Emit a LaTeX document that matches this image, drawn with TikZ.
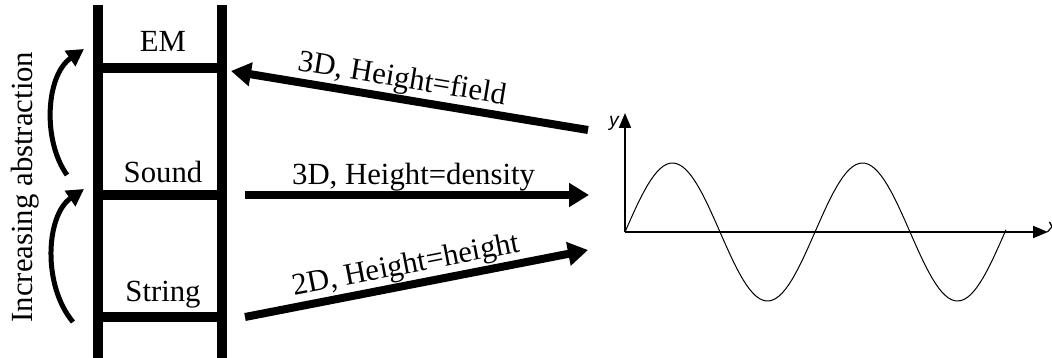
\documentclass[tikz,border=0pt]{standalone}
\usepackage{fontspec}
\setmainfont{Liberation Serif}
\newfontfamily\eixofonte{Liberation Sans}
\usetikzlibrary{arrows.meta}

\begin{document}
\begin{tikzpicture}[
  x = 0.02cm, y = -0.02cm,
  every node/.style = {font = \fontsize{17.5}{20}\selectfont, inner sep = 0pt},
  trilho/.style = {line width = 0.2cm},
  seta/.style = {line width = 0.16cm, -{Triangle[length=0.4cm,width=0.46cm]}},
  curva/.style = {line width = 0.1cm, -{Triangle[length=0.34cm,width=0.36cm]}},
  eixo/.style = {line width = 0.04cm, -{Triangle[length=0.3cm,width=0.24cm]}},
  rotulo/.style = {font = \eixofonte\itshape\fontsize{11}{13}\selectfont},
  declare function = {
    onda(\x) = 232 - 69*sin(((\x-625)/190)*360);
  }
]
\useasboundingbox (0,0) rectangle (1052,358);
\clip (0,0) rectangle (1052,358);

% escada
\coordinate (esqA) at (98,5);   \coordinate (esqB) at (98,358);
\coordinate (dirA) at (222,5);  \coordinate (dirB) at (222,358);
\draw[trilho] (esqA) -- (esqB);
\draw[trilho] (dirA) -- (dirB);
\foreach \y/\nome in {68/em, 195/som, 317/corda}{
  \coordinate (\nome E) at (98,\y);
  \coordinate (\nome D) at (222,\y);
  \draw[trilho] (\nome E) -- (\nome D);
}

\node[anchor=base] (lblem) at (163,52) {EM};
\node[anchor=base] (lblsom) at (163,183) {Sound};
\node[anchor=base] (lblcorda) at (163,301) {String};

% abstraccao
\node[anchor=base, rotate=90] (abstr) at (32,187) {Increasing abstraction};
\coordinate (c1a) at (67,175); \coordinate (c1b) at (84,49);
\coordinate (c2a) at (73,322); \coordinate (c2b) at (84,189);
\draw[curva] (c1a) .. controls (42,140) and (46,75) .. (c1b);
\draw[curva] (c2a) .. controls (42,285) and (46,215) .. (c2b);

% setas para a onda
\coordinate (ondaA) at (588,130); \coordinate (emSeta) at (231,71);
\coordinate (somSeta) at (245,195); \coordinate (ondaB) at (589,195);
\coordinate (cordaSeta) at (245,317); \coordinate (ondaC) at (588,250);

\draw[seta] (ondaA) -- (emSeta)
  node[pos=0.53, sloped, above=0.5pt] (lblcampo) {3D, Height=field};
\draw[seta] (somSeta) -- (ondaB)
  node[pos=0.49, sloped, above=0pt] (lbldens) {3D, Height=density};
\draw[seta] (cordaSeta) -- (ondaC)
  node[pos=0.48, sloped, above=0.5pt] (lblalt) {2D, Height=height};

% grafico
\coordinate (origem) at (625,232);
\coordinate (ytopo) at (625,113);
\coordinate (xfim) at (1048,232);
\draw[eixo] (origem) -- (ytopo);
\draw[eixo] (origem) -- (xfim);
\node[rotulo] (ylbl) at (614,123) {y};
\node[rotulo, anchor=west] (xlbl) at (1047,227) {x};

\draw[line width=0.02cm, domain=625:1006, variable=\x, samples=120]
  plot (\x,{onda(\x)});

\end{tikzpicture}
\end{document}
